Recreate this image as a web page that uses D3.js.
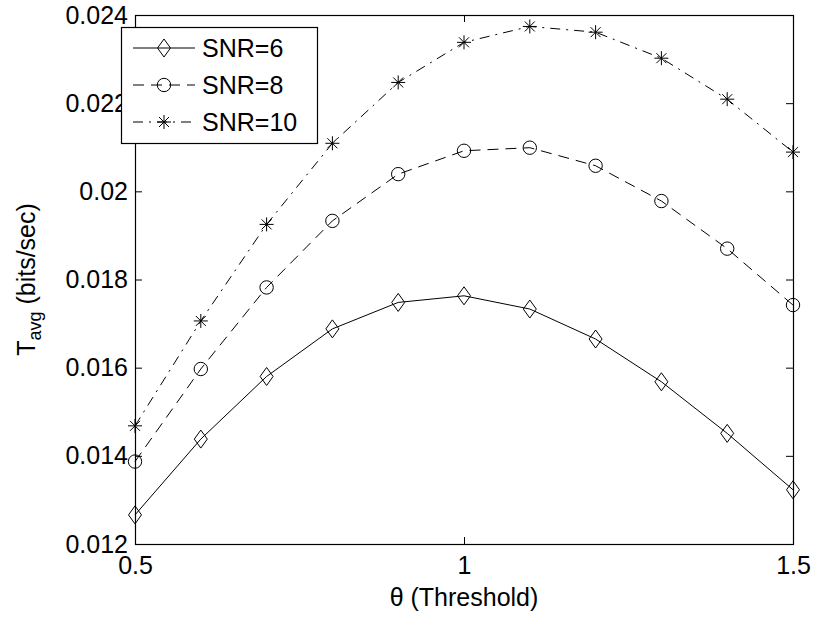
<!DOCTYPE html>
<html>
<head>
<meta charset="utf-8">
<script src="https://cdn.jsdelivr.net/npm/d3@7"></script>
<style>
  body { margin: 0; background: #fff; }
  svg text { font-family: "Liberation Sans", Arial, Helvetica, sans-serif; fill: #000; }
</style>
</head>
<body>
<script>
// data
var theta = [0.5, 0.6, 0.7, 0.8, 0.9, 1.0, 1.1, 1.2, 1.3, 1.4, 1.5];
var snr6  = [0.01266, 0.01438, 0.01580, 0.01688, 0.01748, 0.01763, 0.01733, 0.01665, 0.01568, 0.01451, 0.01323];
var snr8  = [0.01387, 0.01597, 0.01782, 0.01933, 0.02039, 0.02092, 0.02099, 0.02058, 0.01978, 0.01870, 0.01742];
var snr10 = [0.01468, 0.01706, 0.01925, 0.02109, 0.02247, 0.02338, 0.02374, 0.02361, 0.02302, 0.02209, 0.02089];
var seriesNames = ["SNR=6", "SNR=8", "SNR=10"];
var xTicks = [0.5, 1, 1.5];
var xTickLabels = ["0.5", "1", "1.5"];
var yTicks = [0.012, 0.014, 0.016, 0.018, 0.02, 0.022, 0.024];
var yTickLabels = ["0.012", "0.014", "0.016", "0.018", "0.02", "0.022", "0.024"];

var W = 816, H = 617;
var pl = 135, pr = 793, pt = 15, pb = 544;
var fontSize = 25;

var svg = d3.select("body").append("svg")
	.attr("width", W)
	.attr("height", H);

var x = d3.scaleLinear().domain([0.5, 1.5]).range([pl, pr]);
var y = d3.scaleLinear().domain([0.012, 0.024]).range([pb, pt]);

// axes box, ticks inside on all four sides
function styleAxis(g) {
	g.select(".domain").remove();
	g.selectAll(".tick line").attr("stroke", "#000").attr("stroke-width", 1);
	g.selectAll(".tick text").style("font-size", fontSize + "px")
		.style("font-family", "'Liberation Sans', Arial, sans-serif");
}

svg.append("g")
	.attr("transform", "translate(0," + pb + ")")
	.call(d3.axisBottom(x).tickValues(xTicks)
		.tickFormat(function(d, i) { return xTickLabels[i]; })
		.tickSizeInner(-7).tickSizeOuter(0).tickPadding(12))
	.call(styleAxis);

svg.append("g")
	.attr("transform", "translate(0," + pt + ")")
	.call(d3.axisTop(x).tickValues(xTicks).tickFormat("")
		.tickSizeInner(-7).tickSizeOuter(0))
	.call(styleAxis);

svg.append("g")
	.attr("transform", "translate(" + pl + ",0)")
	.call(d3.axisLeft(y).tickValues(yTicks)
		.tickFormat(function(d, i) { return yTickLabels[i]; })
		.tickSizeInner(-7).tickSizeOuter(0).tickPadding(7))
	.call(styleAxis);

svg.append("g")
	.attr("transform", "translate(" + pr + ",0)")
	.call(d3.axisRight(y).tickValues(yTicks).tickFormat("")
		.tickSizeInner(-7).tickSizeOuter(0))
	.call(styleAxis);

svg.append("rect")
	.attr("x", pl + 0.5).attr("y", pt + 0.5)
	.attr("width", pr - pl).attr("height", pb - pt)
	.attr("fill", "none").attr("stroke", "#000").attr("stroke-width", 1.2);

// series
var series = [
	{ name: seriesNames[0], values: snr6, dash: null, marker: "diamond" },
	{ name: seriesNames[1], values: snr8, dash: "11,7", marker: "circle" },
	{ name: seriesNames[2], values: snr10, dash: "10,6,2,6", marker: "star" }
];

var line = d3.line()
	.x(function(d) { return x(d[0]); })
	.y(function(d) { return y(d[1]); });

function markerPath(type) {
	if (type === "diamond") return "M0,-9L6.5,0L0,9L-6.5,0Z";
	if (type === "star") return "M-7,0L7,0M0,-7L0,7M-5,-5L5,5M-5,5L5,-5";
	return null;
}

function drawMarker(g, type, cx, cy) {
	if (type === "circle") {
		g.append("circle").attr("cx", cx).attr("cy", cy).attr("r", 6.7)
			.attr("fill", "none").attr("stroke", "#000").attr("stroke-width", 1);
	} else {
		g.append("path").attr("d", markerPath(type))
			.attr("transform", "translate(" + cx + "," + cy + ")")
			.attr("fill", "none").attr("stroke", "#000").attr("stroke-width", 1);
	}
}

series.forEach(function(s) {
	var pts = theta.map(function(t, i) { return [t, s.values[i]]; });
	var g = svg.append("g");
	g.append("path")
		.datum(pts)
		.attr("d", line)
		.attr("fill", "none")
		.attr("stroke", "#000")
		.attr("stroke-width", 1)
		.attr("stroke-dasharray", s.dash);
	pts.forEach(function(p) {
		drawMarker(g, s.marker, x(p[0]), y(p[1]));
	});
});

// labels
svg.append("text")
	.attr("x", (pl + pr) / 2)
	.attr("y", 606)
	.attr("text-anchor", "middle")
	.style("font-size", fontSize + "px")
	.text("\u03b8 (Threshold)");

var yl = svg.append("text")
	.attr("transform", "translate(35," + ((pt + pb) / 2) + ") rotate(-90)")
	.attr("text-anchor", "middle")
	.style("font-size", fontSize + "px");
yl.append("tspan").text("T");
yl.append("tspan").attr("dy", 6).style("font-size", "18px").text("avg");
yl.append("tspan").attr("dy", -6).text(" (bits/sec)");

// legend
var lg = svg.append("g");
lg.append("rect")
	.attr("x", 121.5).attr("y", 27.5)
	.attr("width", 196).attr("height", 116)
	.attr("fill", "#fff").attr("stroke", "#000").attr("stroke-width", 1.2);

var legendY = [48, 85, 122];
series.forEach(function(s, i) {
	var ly = legendY[i];
	lg.append("line")
		.attr("x1", 133).attr("x2", 195)
		.attr("y1", ly).attr("y2", ly)
		.attr("stroke", "#000").attr("stroke-width", 1)
		.attr("stroke-dasharray", s.dash);
	drawMarker(lg, s.marker, 164, ly);
	lg.append("text")
		.attr("x", 202).attr("y", ly)
		.attr("dy", "0.36em")
		.style("font-size", fontSize + "px")
		.text(s.name);
});
</script>
</body>
</html>
